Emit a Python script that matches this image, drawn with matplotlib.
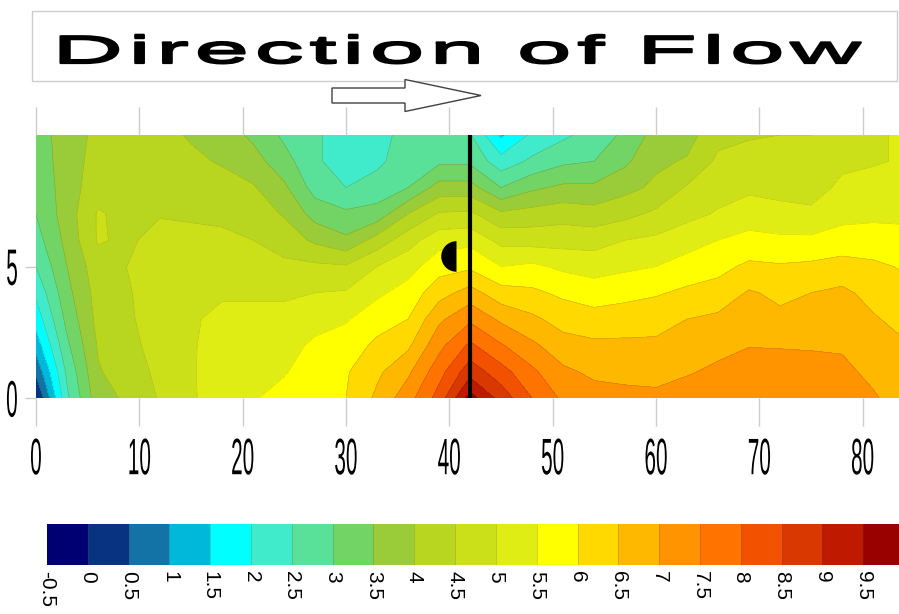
import numpy as np
import matplotlib
matplotlib.use("Agg")
import matplotlib.pyplot as plt
import matplotlib.patches as mpatches
from matplotlib.colors import ListedColormap, BoundaryNorm
from matplotlib.path import Path
from matplotlib.patheffects import AbstractPathEffect

distance = [0, 3, 6, 9, 12, 15, 18, 21, 24, 27, 30, 33, 36, 39, 42,
            45, 48, 51, 54, 57, 60, 63, 66, 69, 72, 75, 78, 81, 84]
depth = [0, 1, 2, 3, 4, 5, 6, 7, 8, 9, 10]

# one list per distance, values from depth 0 up to depth 10
field_by_distance = [
    [-0.1, 0.6, 1.2, 1.7, 2.1, 2.5, 2.8, 3.0, 3.1, 3.2, 3.3],
    [2.4, 2.6, 2.9, 3.15, 3.35, 3.5, 3.65, 3.75, 3.75, 3.75, 3.7],
    [3.8, 3.95, 4.05, 4.15, 4.2, 4.3, 4.55, 4.55, 4.3, 4.2, 4.15],
    [4.1, 4.3, 4.4, 4.45, 4.47, 4.52, 4.4, 4.35, 4.3, 4.2, 4.15],
    [4.55, 4.6, 4.65, 4.7, 4.75, 4.8, 4.75, 4.45, 4.3, 4.2, 4.15],
    [4.95, 4.95, 4.95, 4.95, 4.9, 4.85, 4.7, 4.4, 4.25, 4.1, 3.95],
    [5.2, 5.25, 5.2, 5.1, 4.95, 4.8, 4.6, 4.4, 4.2, 3.95, 3.75],
    [5.45, 5.35, 5.25, 5.1, 4.95, 4.75, 4.5, 4.3, 4.05, 3.7, 3.4],
    [5.7, 5.45, 5.3, 5.1, 4.95, 4.6, 4.3, 3.95, 3.6, 3.2, 2.9],
    [5.9, 5.8, 5.6, 5.3, 5.0, 4.6, 3.9, 3.3, 2.8, 2.6, 2.6],
    [6.0, 5.95, 5.75, 5.45, 5.05, 4.55, 3.6, 3.1, 2.5, 2.2, 2.2],
    [6.6, 6.4, 6.1, 5.8, 5.4, 5.0, 4.2, 3.2, 2.7, 2.4, 2.4],
    [7.3, 6.9, 6.4, 6.0, 5.7, 5.3, 4.8, 4.0, 3.0, 2.75, 2.6],
    [8.2, 7.8, 7.35, 6.9, 6.3, 5.8, 5.3, 4.55, 3.7, 2.9, 2.7],
    [9.7, 8.8, 8.1, 7.4, 6.7, 5.9, 5.35, 4.6, 3.7, 2.9, 2.55],
    [8.8, 8.2, 7.55, 6.9, 6.2, 5.5, 4.85, 4.1, 3.0, 2.2, 1.4],
    [8.0, 7.6, 7.1, 6.6, 6.1, 5.6, 4.8, 4.2, 3.4, 2.6, 2.1],
    [7.4, 7.1, 6.7, 6.3, 5.9, 5.4, 4.8, 4.3, 3.6, 2.9, 2.4],
    [7.2, 6.9, 6.6, 6.2, 5.75, 5.3, 4.8, 4.2, 3.6, 3.0, 2.7],
    [7.15, 6.85, 6.6, 6.25, 5.85, 5.4, 5.0, 4.35, 3.85, 3.4, 3.1],
    [7.1, 6.85, 6.6, 6.3, 5.95, 5.5, 5.1, 4.6, 4.1, 3.9, 3.7],
    [7.25, 6.95, 6.75, 6.5, 6.1, 5.7, 5.3, 4.85, 4.55, 4.05, 3.8],
    [7.4, 7.1, 6.85, 6.6, 6.2, 5.85, 5.5, 5.05, 4.8, 4.6, 4.35],
    [7.45, 7.25, 6.98, 6.75, 6.55, 6.1, 5.65, 5.25, 4.9, 4.7, 4.45],
    [7.4, 7.2, 6.97, 6.6, 6.4, 6.05, 5.6, 5.15, 4.85, 4.65, 4.5],
    [7.4, 7.2, 6.95, 6.75, 6.5, 6.1, 5.6, 5.1, 4.8, 4.65, 4.5],
    [7.35, 7.1, 6.95, 6.75, 6.6, 6.2, 5.7, 5.35, 5.1, 4.9, 4.8],
    [7.05, 6.9, 6.75, 6.55, 6.35, 6.1, 5.7, 5.4, 5.2, 4.95, 4.95],
    [6.8, 6.7, 6.55, 6.35, 6.15, 5.95, 5.65, 5.4, 5.2, 5.05, 5.05],
]

# measuring section and the obstacle beside it
section_x = 42
obstacle_x = 40.6
obstacle_y = 5.4

x_ticks = [0, 10, 20, 30, 40, 50, 60, 70, 80]
y_ticks = [0, 5]

# colour levels of the scale
levels = np.arange(-0.5, 10.01, 0.5)
level_ticks = levels[:-1]
level_colors = [
    (0.00, 0.00, 0.45), (0.03, 0.20, 0.50), (0.08, 0.45, 0.65), (0.00, 0.72, 0.85),
    (0.00, 1.00, 1.00), (0.25, 0.92, 0.80), (0.35, 0.88, 0.60), (0.45, 0.83, 0.40),
    (0.60, 0.80, 0.22), (0.72, 0.84, 0.12), (0.80, 0.88, 0.10), (0.88, 0.93, 0.08),
    (1.00, 1.00, 0.00), (1.00, 0.85, 0.00), (1.00, 0.72, 0.00), (1.00, 0.58, 0.00),
    (1.00, 0.45, 0.00), (0.95, 0.32, 0.00), (0.85, 0.22, 0.00), (0.75, 0.10, 0.00),
    (0.60, 0.00, 0.00),
]


class Stretch(AbstractPathEffect):
    """Scale text glyphs sideways / upwards and spread the letters apart."""

    def __init__(self, sx=1.0, sy=1.0, track=0.0, anchor="center", vanchor="center",
                 weight=0.0):
        super().__init__()
        self.sx = sx
        self.sy = sy
        self.track = track
        self.anchor = anchor
        self.vanchor = vanchor
        self.weight = weight

    def draw_path(self, renderer, gc, tpath, affine, rgbFace=None):
        verts = np.array(tpath.vertices, dtype=float)
        codes = tpath.codes
        if codes is None or len(verts) == 0:
            renderer.draw_path(gc, tpath, affine, rgbFace)
            return
        m = affine.get_matrix()
        scale = np.sqrt(abs(m[0, 0] * m[1, 1] - m[0, 1] * m[1, 0]))
        step = self.track / scale if scale else 0.0
        real = codes != Path.CLOSEPOLY
        starts = list(np.nonzero(codes == Path.MOVETO)[0]) + [len(verts)]
        new = verts.copy()
        group, right = -1, -np.inf
        for a, b in zip(starts[:-1], starts[1:]):
            xs = verts[a:b][real[a:b], 0]
            if len(xs) == 0:
                continue
            if xs.min() >= right:
                group += 1
                right = xs.max()
            else:
                right = max(right, xs.max())
            new[a:b, 0] = self.sx * verts[a:b, 0] + group * step
        new[:, 1] = self.sy * verts[:, 1]

        old_x, new_x = verts[real, 0], new[real, 0]
        if self.anchor == "right":
            new[:, 0] += old_x.max() - new_x.max()
        else:
            new[:, 0] += (old_x.min() + old_x.max()) / 2 - (new_x.min() + new_x.max()) / 2
        old_y, new_y = verts[real, 1], new[real, 1]
        if self.vanchor == "top":
            new[:, 1] += old_y.max() - new_y.max()
        else:
            new[:, 1] += (old_y.min() + old_y.max()) / 2 - (new_y.min() + new_y.max()) / 2

        path = Path(new, codes)
        if self.weight > 0:
            # thicken the strokes a little with an outline in the text colour
            gc0 = renderer.new_gc()
            gc0.copy_properties(gc)
            gc0.set_linewidth(self.weight)
            gc0.set_foreground(rgbFace)
            gc0.set_joinstyle('round')
            renderer.draw_path(gc0, path, affine, rgbFace)
            gc0.restore()
        else:
            renderer.draw_path(gc, path, affine, rgbFace)


plt.rcParams['font.family'] = ['Liberation Sans', 'DejaVu Sans']

fig = plt.figure(figsize=(8.99, 6.14), dpi=100)

# Main section plot
ax = fig.add_axes([36 / 899, 216 / 614, 868 / 899, 263 / 614])
cmap = ListedColormap(level_colors)
norm = BoundaryNorm(levels, cmap.N)
Z = np.array(field_by_distance).T
cs = ax.contourf(distance, depth, Z, levels=levels, cmap=cmap, norm=norm)
ax.contour(distance, depth, Z, levels=levels, colors='k', linewidths=0.4, alpha=0.18)

ax.axvline(section_x, color='k', linewidth=3)
ax.plot([obstacle_x], [obstacle_y], marker='o', markersize=22, fillstyle='left',
        markerfacecolor='k', markerfacecoloralt='none', markeredgewidth=0,
        linestyle='none')

ax.set_xlim(0, 84)
ax.set_ylim(0, 10)
ax.set_xticks(x_ticks)
ax.set_yticks(y_ticks)
for side in ax.spines.values():
    side.set_visible(False)
ax.tick_params(axis='x', top=True, direction='out', length=20, width=1,
               color='0.8', labelsize=18, pad=8)
ax.tick_params(axis='y', direction='out', length=8, width=1,
               color='0.8', labelsize=18, pad=5)
for lbl in ax.get_xticklabels():
    lbl.set_path_effects([Stretch(0.83, 2.05, vanchor="top")])
for lbl in ax.get_yticklabels():
    lbl.set_path_effects([Stretch(0.83, 2.05, anchor="right")])

# Colour scale
cax = fig.add_axes([47 / 899, 49 / 614, 857 / 899, 41 / 614])
cb = fig.colorbar(cs, cax=cax, orientation='horizontal', ticks=level_ticks,
                  drawedges=True)
cb.outline.set_visible(False)
cb.dividers.set_color((0.3, 0.3, 0.3, 0.25))
cb.dividers.set_linewidth(0.6)
cax.set_xticklabels([f"{v:g}" for v in level_ticks], rotation=-90, fontsize=15)
cax.tick_params(length=0, pad=4)

# Title box and flow arrow
fig.add_artist(mpatches.Rectangle((0.32, 5.33), 8.65, 0.70, transform=fig.dpi_scale_trans,
                                  facecolor='white', edgecolor='0.8', linewidth=1))
fig.text(4.59, 5.51, "Direction of Flow", transform=fig.dpi_scale_trans,
         ha='center', va='baseline', fontsize=28,
         path_effects=[Stretch(2.5, track=6, weight=1.6)])
fig.add_artist(mpatches.FancyArrow(3.32, 5.185, 1.49, 0, width=0.15, head_width=0.32,
                                   head_length=0.76, length_includes_head=True,
                                   transform=fig.dpi_scale_trans, facecolor='white',
                                   edgecolor='0.25', linewidth=1))

fig.savefig("out.png", dpi=100)
